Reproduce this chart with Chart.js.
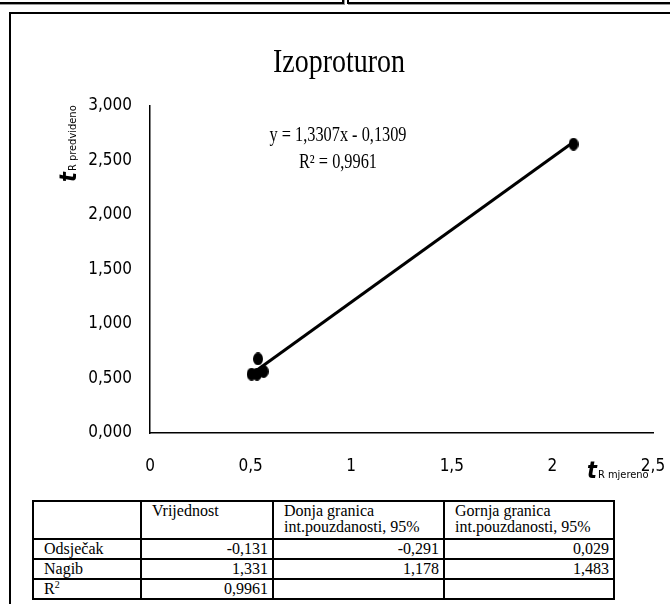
<!DOCTYPE html>
<html>
<head>
<meta charset="utf-8">
<script src="https://cdn.jsdelivr.net/npm/chart.js@4.4.1/dist/chart.umd.min.js"></script>
<style>
  html, body { margin: 0; padding: 0; background: #fff; }
  #page { position: relative; width: 670px; height: 604px; overflow: hidden; background: #fff; }
  .frame { position: absolute; border: 2px solid #000; box-shadow: 1px 1px 0 #999; }
  #chart { position: absolute; left: 0; top: 0; }
  table {
    position: absolute; left: 32px; top: 500px;
    border-collapse: collapse; table-layout: fixed;
    font-family: 'Liberation Serif', 'Times New Roman', serif; font-size: 16px; color: #000;
  }
  td { border: 2px solid #000; padding: 0 4px 0 10px; line-height: 16px; height: 18px; white-space: nowrap; }
  td.num { text-align: right; padding-right: 4px; }
  tr.head td { height: 35px; vertical-align: top; padding-top: 1px; }
</style>
</head>
<body>
<div id="page">
  <div class="frame" style="left:-2px; top:-20px; width:342px; height:20px;"></div>
  <div class="frame" style="left:347px; top:-20px; width:340px; height:20px;"></div>
  <div class="frame" style="left:9px; top:12px; width:680px; height:620px;"></div>
  <canvas id="chart" width="670" height="500"></canvas>
  <table id="stats">
    <colgroup><col style="width:108px"><col style="width:132px"><col style="width:171px"><col style="width:170px"></colgroup>
  </table>
</div>
<script>
const TITLE = 'Izoproturon';
const EQUATION = 'y = 1,3307x - 0,1309';
const R2_TEXT = 'R² = 0,9961';

// measured vs predicted retention times
const measuredX = [0.505, 0.532, 0.537, 0.565, 2.105];
const predictedY = [0.540, 0.540, 0.680, 0.565, 2.650];

// linear trend line, read at its two ends
const trendX = [0.515, 2.105];
const trendY = [0.555, 2.670];

const xTicks = [0, 0.5, 1, 1.5, 2, 2.5];
const yTicks = [0, 0.5, 1, 1.5, 2, 2.5, 3];

const tableHead = ['', 'Vrijednost', 'Donja granica<br>int.pouzdanosti, 95%', 'Gornja granica<br>int.pouzdanosti, 95%'];
const rowLabels = ['Odsječak', 'Nagib', 'R<sup style="font-size:10px;line-height:0">2</sup>'];
const valueCol = ['-0,131', '1,331', '0,9961'];
const lowerCol = ['-0,291', '1,178', ''];
const upperCol = ['0,029', '1,483', ''];

const NARROW = '"Liberation Sans Narrow", "DejaVu Sans Condensed", sans-serif';
const SERIF = '"Liberation Serif", "Times New Roman", serif';

function comma(value, digits) {
  return (digits == null ? String(value) : value.toFixed(digits)).replace('.', ',');
}

function ellipseMarker(w, h) {
  const c = document.createElement('canvas');
  c.width = w; c.height = h;
  const g = c.getContext('2d');
  g.fillStyle = '#000';
  g.beginPath();
  g.ellipse(w / 2, h / 2, w / 2, h / 2, 0, 0, Math.PI * 2);
  g.fill();
  return c;
}

function drawSplitLabel(ctx, big, small) {
  ctx.font = 'italic bold 23px ' + NARROW;
  ctx.fillText(big, 0, 0);
  const w = ctx.measureText(big).width;
  ctx.font = '11px ' + NARROW;
  ctx.fillText(small, w + 1, 0);
}

// Excel renders these texts a little taller than wide
function tallText(ctx, text, x, y, sx, sy) {
  ctx.save();
  ctx.translate(x, y);
  ctx.scale(sx, sy);
  ctx.fillText(text, 0, 0);
  ctx.restore();
}

const textLayer = {
  id: 'textLayer',
  afterDraw(chart) {
    const ctx = chart.ctx;
    ctx.save();
    ctx.fillStyle = '#000';
    ctx.textBaseline = 'alphabetic';
    ctx.textAlign = 'center';
    ctx.font = '28px ' + SERIF;
    tallText(ctx, TITLE, 339, 72, 1, 1.2);
    ctx.font = '17px ' + SERIF;
    tallText(ctx, EQUATION, 338, 141, 0.96, 1.2);
    tallText(ctx, R2_TEXT, 338, 168, 0.96, 1.2);

    ctx.textAlign = 'left';
    ctx.save();
    ctx.translate(76, 182);
    ctx.rotate(-Math.PI / 2);
    drawSplitLabel(ctx, 't', 'R predvideno');
    ctx.restore();

    ctx.save();
    ctx.translate(587, 478);
    drawSplitLabel(ctx, 't', 'R mjereno');
    ctx.restore();
    ctx.restore();
  },
};

function renderTable() {
  const table = document.getElementById('stats');
  let html = '<tr class="head">' + tableHead.map(h => `<td>${h}</td>`).join('') + '</tr>';
  rowLabels.forEach((label, i) => {
    html += `<tr><td>${label}</td><td class="num">${valueCol[i]}</td><td class="num">${lowerCol[i]}</td><td class="num">${upperCol[i]}</td></tr>`;
  });
  table.insertAdjacentHTML('beforeend', html);
}

function renderChart() {
  const marker = ellipseMarker(10, 13);
  new Chart(document.getElementById('chart'), {
    type: 'scatter',
    data: {
      datasets: [
        {
          label: 'trend',
          data: trendX.map((x, i) => ({ x, y: trendY[i] })),
          showLine: true,
          borderColor: '#000',
          borderWidth: 3,
          pointRadius: 0,
          order: 2,
        },
        {
          label: 'tR',
          data: measuredX.map((x, i) => ({ x, y: predictedY[i] })),
          pointStyle: marker,
          backgroundColor: '#000',
          order: 1,
        },
      ],
    },
    options: {
      responsive: false,
      animation: false,
      layout: { padding: { top: 106, right: 17, bottom: 0, left: 0 } },
      plugins: { legend: { display: false }, tooltip: { enabled: false }, title: { display: false } },
      scales: {
        x: {
          type: 'linear',
          min: 0,
          max: 2.5,
          afterBuildTicks: scale => { scale.ticks = xTicks.map(value => ({ value })); },
          afterFit: scale => {
            scale.height = 67;
            scale.paddingLeft = 0;
            scale.paddingRight = 0;
          },
          grid: { display: false, drawTicks: false },
          border: { display: true, color: '#000', width: 1.5 },
          ticks: {
            padding: 23,
            color: '#000',
            maxRotation: 0,
            font: { family: NARROW, size: 17 },
            callback: value => comma(value),
          },
        },
        y: {
          type: 'linear',
          min: 0,
          max: 3,
          afterBuildTicks: scale => { scale.ticks = yTicks.map(value => ({ value })); },
          afterFit: scale => { scale.width = 150; },
          grid: { display: false, drawTicks: false },
          border: { display: true, color: '#000', width: 1.5 },
          ticks: {
            padding: 18,
            color: '#000',
            font: { family: NARROW, size: 17 },
            callback: value => comma(value, 3),
          },
        },
      },
    },
    plugins: [textLayer],
  });
}

renderTable();
renderChart();
</script>
</body>
</html>
